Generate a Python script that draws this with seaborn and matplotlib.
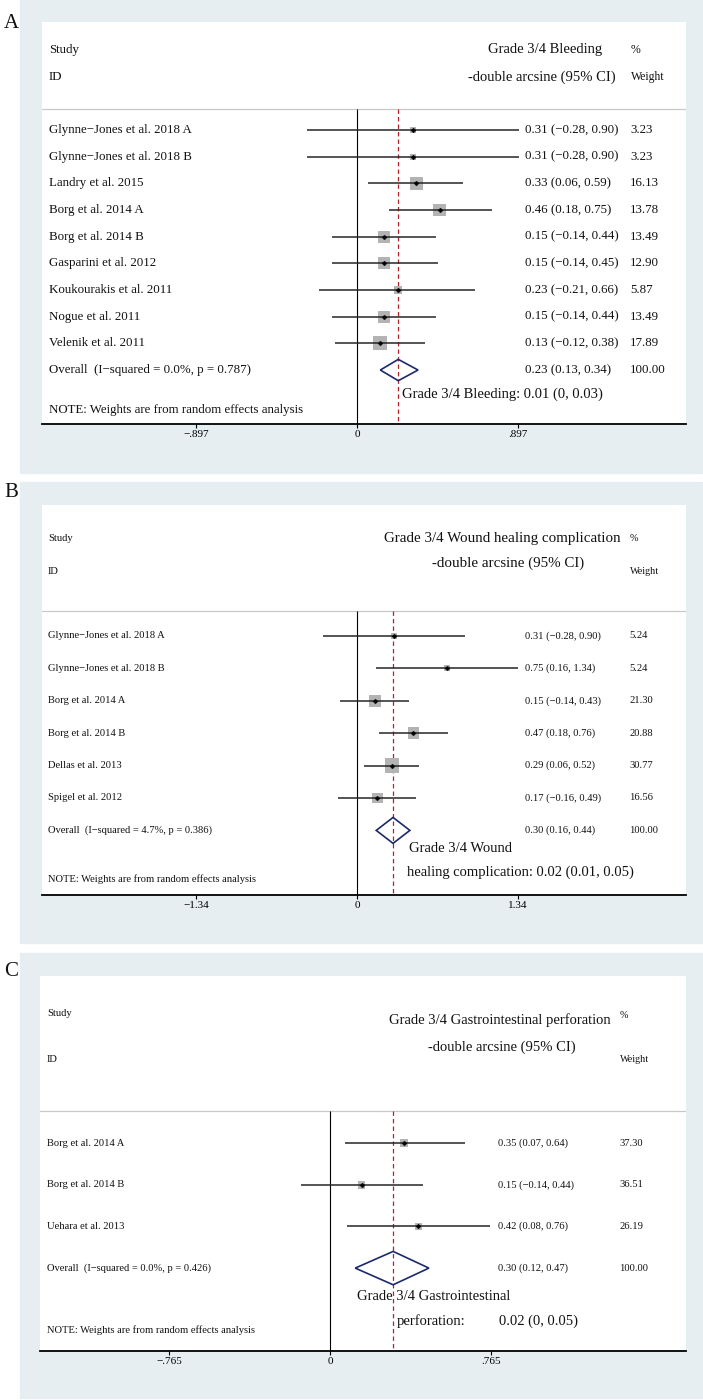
import matplotlib
matplotlib.use('Agg')
import matplotlib.pyplot as plt
from matplotlib.patches import Rectangle
import seaborn as sns
import pandas as pd

sns.set_style('white')
plt.rcParams['font.family'] = ['Liberation Serif', 'DejaVu Serif']

# ---- data ----
# Panel A: Grade 3/4 bleeding
a_studies = ['Glynne\u2212Jones et al. 2018 A', 'Glynne\u2212Jones et al. 2018 B', 'Landry et al. 2015',
             'Borg et al. 2014 A', 'Borg et al. 2014 B', 'Gasparini et al. 2012',
             'Koukourakis et al. 2011', 'Nogue et al. 2011', 'Velenik et al. 2011']
a_est = [0.31, 0.31, 0.33, 0.46, 0.15, 0.15, 0.23, 0.15, 0.13]
a_lo = [-0.28, -0.28, 0.06, 0.18, -0.14, -0.14, -0.21, -0.14, -0.12]
a_hi = [0.90, 0.90, 0.59, 0.75, 0.44, 0.45, 0.66, 0.44, 0.38]
a_wt = [3.23, 3.23, 16.13, 13.78, 13.49, 12.90, 5.87, 13.49, 17.89]
a_pooled = [0.23, 0.13, 0.34]
a_het = ['0.0%', '0.787']

# Panel B: Grade 3/4 wound healing complication
b_studies = ['Glynne\u2212Jones et al. 2018 A', 'Glynne\u2212Jones et al. 2018 B', 'Borg et al. 2014 A',
             'Borg et al. 2014 B', 'Dellas et al. 2013', 'Spigel et al. 2012']
b_est = [0.31, 0.75, 0.15, 0.47, 0.29, 0.17]
b_lo = [-0.28, 0.16, -0.14, 0.18, 0.06, -0.16]
b_hi = [0.90, 1.34, 0.43, 0.76, 0.52, 0.49]
b_wt = [5.24, 5.24, 21.30, 20.88, 30.77, 16.56]
b_pooled = [0.30, 0.16, 0.44]
b_het = ['4.7%', '0.386']

# Panel C: Grade 3/4 gastrointestinal perforation
c_studies = ['Borg et al. 2014 A', 'Borg et al. 2014 B', 'Uehara et al. 2013']
c_est = [0.35, 0.15, 0.42]
c_lo = [0.07, -0.14, 0.08]
c_hi = [0.64, 0.44, 0.76]
c_wt = [37.30, 36.51, 26.19]
c_pooled = [0.30, 0.12, 0.47]
c_het = ['0.0%', '0.426']

W, H = 703, 1400
BG = '#e6eef2'


def fx(x):
    return x / W


def fy(y):
    return 1 - y / H


def fmt(v):
    return f'{v:.2f}'.replace('-', '\u2212')


fig = plt.figure(figsize=(W / 100, H / 100), dpi=100)
fig.patch.set_facecolor('white')


def txt(x, y, s, size, ha='left', va='center'):
    fig.text(fx(x), fy(y), s, fontsize=size, ha=ha, va=va, color='#111111')


def forest(studies, est, lo, hi, wt, pooled, het, lay):
    # outer light panel and label
    fig.add_artist(Rectangle((fx(20), fy(lay['bg'][1])), (702 - 20) / W,
                             (lay['bg'][1] - lay['bg'][0]) / H,
                             transform=fig.transFigure, color=BG, zorder=-5))
    txt(lay['lab'][0], lay['lab'][1], lay['label'], 15)

    wl, wr, wt_, wb = lay['white']
    ax = fig.add_axes([fx(wl), fy(wb), (wr - wl) / W, (wb - wt_) / H])
    ax.set_facecolor('white')
    ppu = 161 / lay['tick']
    r0, dr = lay['rows']

    def yd(px):
        return (px - r0) / dr

    ax.set_xlim((wl - lay['zero']) / ppu, (wr - lay['zero']) / ppu)
    ax.set_ylim(yd(wb), yd(wt_))

    n = len(studies)
    df = pd.DataFrame({'row': range(n), 'est': est, 'lo': lo, 'hi': hi, 'wt': wt})
    side = [(lay['box'] * w ** 0.5 * 0.72) ** 2 for w in wt]

    hline = yd(lay['hline'])
    ax.axhline(hline, color='#c8c8c8', lw=0.9)
    ax.vlines(0, hline, yd(wb), color='black', lw=0.8)
    ax.vlines(pooled[0], hline, yd(wb), color='#b0232a', lw=0.9, linestyle=(0, (3.5, 2.5)))

    sns.scatterplot(data=df, x='est', y='row', marker='s', s=side, color='#b3b3b3',
                    edgecolor='none', linewidth=0, ax=ax, zorder=3, legend=False)
    ax.hlines(df['row'], df['lo'], df['hi'], color='#262626', lw=1.1, zorder=4)
    sns.scatterplot(data=df, x='est', y='row', marker='D', s=6, color='black',
                    edgecolor='black', linewidth=0.3, ax=ax, zorder=5, legend=False)

    # pooled diamond
    pr = n
    ax.fill([pooled[1], pooled[0], pooled[2], pooled[0]],
            [pr, pr - 0.4, pr, pr + 0.4], facecolor='none', edgecolor='#1b2a6b', lw=1.2, zorder=6)

    for s in ['top', 'left', 'right']:
        ax.spines[s].set_visible(False)
    ax.spines['bottom'].set_color('black')
    ax.spines['bottom'].set_linewidth(1.3)
    t = lay['tick']
    ax.set_xticks([-t, 0, t])
    ax.set_xticklabels([lay['ticklab'].replace('-', '\u2212'), '0', lay['ticklab'].lstrip('-')])
    ax.tick_params(axis='x', bottom=True, length=3, width=0.8, direction='out', pad=1.5,
                   labelsize=8, colors='black')
    ax.set_yticks([])
    ax.set_xlabel('')
    ax.set_ylabel('')

    # column headers
    fs = lay['fs']
    txt(lay['idx'], lay['hdr'][0], 'Study', fs)
    txt(lay['idx'], lay['hdr'][1], 'ID', fs)
    txt(lay['title'][0], lay['title'][1], lay['title'][2], lay['tfs'], ha='center')
    txt(lay['title'][3], lay['title'][4], '-double arcsine (95% CI)', lay['tfs'], ha='center')
    txt(lay['pct'][0], lay['pct'][1], '%', lay['wfs'])
    txt(lay['pct'][0], lay['pct'][2], 'Weight', lay['wfs'])

    # rows
    for i in range(n):
        y = r0 + i * dr
        txt(lay['idx'], y, studies[i], fs)
        txt(lay['valx'], y, f'{fmt(est[i])} ({fmt(lo[i])}, {fmt(hi[i])})', fs)
        txt(lay['wtx'], y, f'{wt[i]:.2f}', fs)
    y = r0 + n * dr
    txt(lay['idx'], y, f'Overall  (I\u2212squared = {het[0]}, p = {het[1]})', fs)
    txt(lay['valx'], y, f'{fmt(pooled[0])} ({fmt(pooled[1])}, {fmt(pooled[2])})', fs)
    txt(lay['wtx'], y, '100.00', fs)
    txt(lay['idx'], lay['note'], 'NOTE: Weights are from random effects analysis', fs)
    for (x, yy, s) in lay['pool_txt']:
        txt(x, yy, s, 10.5)
    return ax


forest(a_studies, a_est, a_lo, a_hi, a_wt, a_pooled, a_het, dict(
    bg=(0, 473), lab=(4, 23), label='A', white=(42, 686, 22, 424), zero=357, tick=0.897,
    ticklab='-.897', rows=(130, 26.67), hline=109, box=3.3, fs=9.3, tfs=10.5, wfs=8.5,
    idx=49, hdr=(50, 77), title=(545, 50, 'Grade 3/4 Bleeding', 542, 77), pct=(631, 50, 77),
    valx=525, wtx=630, note=410,
    pool_txt=[(402, 394, 'Grade 3/4 Bleeding: 0.01 (0, 0.03)')]))

forest(b_studies, b_est, b_lo, b_hi, b_wt, b_pooled, b_het, dict(
    bg=(482, 943), lab=(4, 493), label='B', white=(42, 686, 505, 895), zero=357, tick=1.34,
    ticklab='-1.34', rows=(636, 32.4), hline=611, box=2.6, fs=7.6, tfs=10.8, wfs=7.3,
    idx=48, hdr=(538, 571), title=(502, 538, 'Grade 3/4 Wound healing complication', 508, 563),
    pct=(630, 538, 571), valx=525, wtx=629, note=879,
    pool_txt=[(409, 848, 'Grade 3/4 Wound'),
              (407, 872, 'healing complication: 0.02 (0.01, 0.05)')]))

forest(c_studies, c_est, c_lo, c_hi, c_wt, c_pooled, c_het, dict(
    bg=(953, 1398), lab=(4, 972), label='C', white=(40, 686, 976, 1351), zero=330, tick=0.765,
    ticklab='-.765', rows=(1143, 41.7), hline=1111, box=1.3, fs=7.6, tfs=10.5, wfs=7.3,
    idx=47, hdr=(1013, 1059),
    title=(500, 1020, 'Grade 3/4 Gastrointestinal perforation', 502, 1047),
    pct=(620, 1016, 1059), valx=498, wtx=619, note=1330,
    pool_txt=[(357, 1297, 'Grade 3/4 Gastrointestinal'),
              (397, 1321, 'perforation:'),
              (499, 1321, '0.02 (0, 0.05)')]))

fig.savefig('out.png', dpi=100, facecolor='white')
